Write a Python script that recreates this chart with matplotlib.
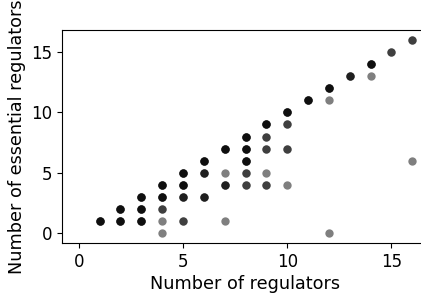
import numpy as np
import matplotlib
matplotlib.use("Agg")
import matplotlib.pyplot as plt

# number of regulators, number of essential ones, how many genes share that point
n_reg = [1, 2, 2, 3, 3, 3, 4, 4, 4, 4, 4, 5, 5, 5, 5, 6, 6, 6, 7, 7, 7, 7,
         8, 8, 8, 8, 8, 9, 9, 9, 9, 9, 10, 10, 10, 10, 11, 12, 12, 12, 13,
         14, 14, 15, 16, 16]
n_ess = [1, 2, 1, 3, 2, 1, 4, 3, 2, 1, 0, 5, 4, 3, 1, 6, 5, 3, 7, 5, 4, 1,
         8, 7, 6, 5, 4, 9, 8, 7, 5, 4, 10, 9, 7, 4, 11, 12, 11, 0, 13,
         14, 13, 15, 16, 6]
counts = [4, 4, 4, 4, 4, 4, 4, 4, 2, 1, 1, 4, 4, 3, 2, 4, 3, 3, 4, 1, 3, 1,
          4, 4, 4, 2, 2, 4, 2, 2, 1, 2, 4, 2, 2, 1, 4, 4, 1, 1, 3,
          4, 1, 2, 2, 1]

x = np.repeat(n_reg, counts)
y = np.repeat(n_ess, counts)

plt.rcParams['font.size'] = 12
fig = plt.figure(figsize=(4.21, 2.94), dpi=100)
ax = fig.add_axes([62/421, 51/294, 367/421, 213/294])
ax.scatter(x, y, c='black', alpha=0.5, s=36, linewidths=0)
ax.set_xlim(-0.8, 16.8)
ax.set_ylim(-0.8, 16.8)
ax.set_xticks([0, 5, 10, 15])
ax.set_yticks([0, 5, 10, 15])
ax.set_xlabel("Number of regulators", fontsize=12.7, labelpad=3)
ax.set_ylabel("Number of essential regulators", fontsize=12.7)
fig.savefig("out.png", dpi=100)
